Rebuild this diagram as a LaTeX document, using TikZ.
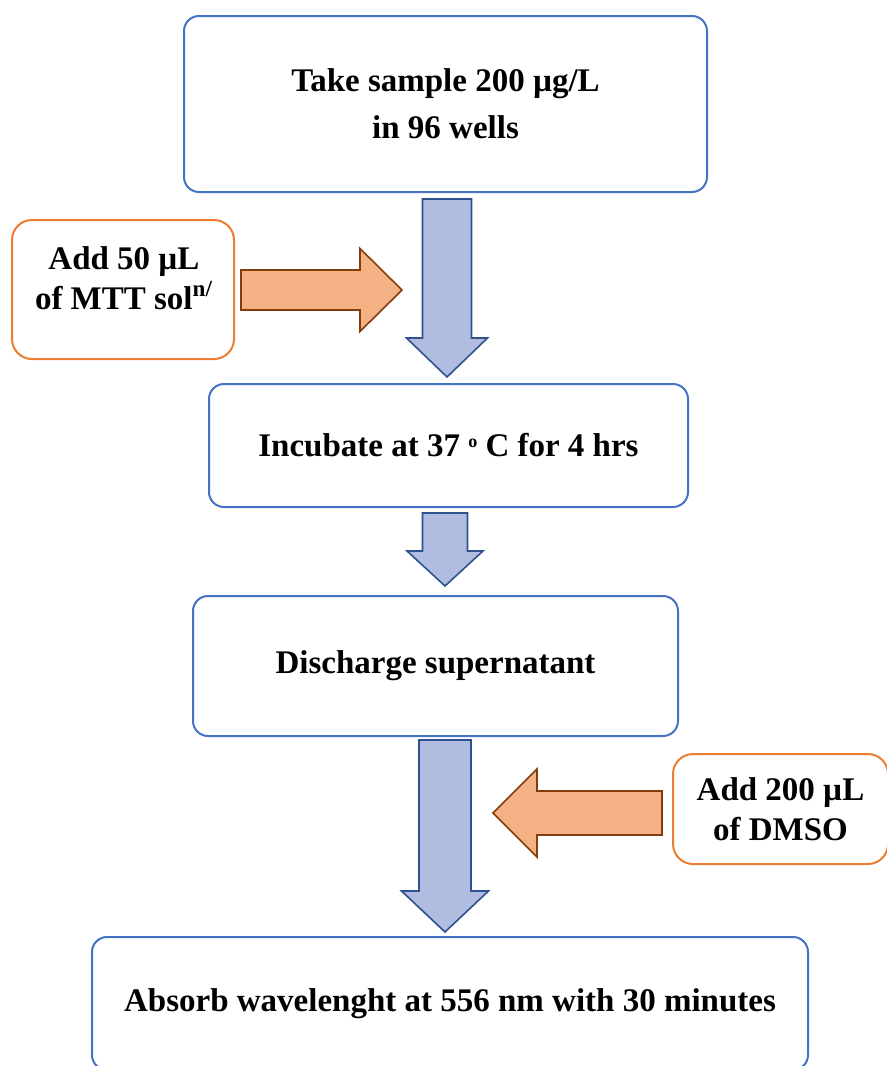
\documentclass[tikz,border=0pt]{standalone}
\usepackage{fontspec}
\setmainfont{Liberation Serif}
\usepackage{tikz}
\usetikzlibrary{calc}
\definecolor{BoxBlue}{HTML}{4472C4}
\definecolor{AddOrange}{HTML}{ED7D31}
\definecolor{ArrBlue}{HTML}{B0BDE0}
\definecolor{ArrEdge}{HTML}{2F528F}
\definecolor{ArrOrange}{HTML}{F4B183}
\definecolor{ArrBrown}{HTML}{843C0C}

% block arrow: style, tail, tip, shaft half width, head half width, head length
\newcommand{\blockarrow}[6]{%
  \coordinate (hb) at ($(#3)!#6!(#2)$);
  \draw[#1] ($(#2)!#4!90:(#3)$) -- ($(hb)!#4!90:(#3)$) -- ($(hb)!#5!90:(#3)$)
    -- (#3) -- ($(hb)!#5!-90:(#3)$) -- ($(hb)!#4!-90:(#3)$)
    -- ($(#2)!#4!-90:(#3)$) -- cycle;}
% small degree mark
\newcommand{\degmark}{\raisebox{0.6ex}{\fontsize{9pt}{9pt}\selectfont o}}

\begin{document}
\begin{tikzpicture}[x=0.5pt, y=-0.5pt,
          stepbox/.style={rectangle, rounded corners=7.5pt, draw=BoxBlue,
                          line width=1pt, fill=white},
          addbox/.style={rectangle, rounded corners=10pt, draw=AddOrange,
                         line width=1pt, fill=white},
          txt/.style={font=\fontsize{16.5pt}{20pt}\selectfont\bfseries, align=center},
          downarr/.style={fill=ArrBlue, draw=ArrEdge, line width=0.8pt},
          sidearr/.style={fill=ArrOrange, draw=ArrBrown, line width=0.8pt}
        ]
        \useasboundingbox (0,0) rectangle (887,1066);

        % Sample
        \node[stepbox, txt, minimum width=261.5pt, minimum height=88pt] (take)
              at (445.5,104) {Take sample 200 µg/L\\[3.5pt]in 96 wells};

        % MTT addition
        \node[addbox, minimum width=111pt, minimum height=69.5pt] (mtt) at (123,289.5) {};
        \node[txt] (mttlbl) at (124,278) {Add 50 µL\\of MTT sol\textsuperscript{n/}};

        % Incubation
        \node[stepbox, txt, minimum width=239.5pt, minimum height=61.5pt] (incub)
              at (448.5,445.5) {Incubate at 37 \degmark\ C for 4 hrs};

        % Discharge
        \node[stepbox, txt, minimum width=242.5pt, minimum height=70pt] (disch)
              at (435.5,666) {Discharge supernatant};

        % DMSO addition
        \node[addbox, txt, minimum width=107.5pt, minimum height=55pt] (dmso)
              at (780.5,809) {Add 200 µL\\of DMSO};

        % Reading
        \node[stepbox, txt, minimum width=358pt, minimum height=66.5pt] (absorb)
              at (450,1003.5) {Absorb wavelenght at 556 nm with 30 minutes};

        % Arrows down
        \coordinate (a1t) at ($(take.south)+(1.5,6)$);
        \coordinate (a1h) at ($(incub.north)+(-1.5,-6)$);
        \blockarrow{downarr}{a1t}{a1h}{12.25pt}{20.25pt}{19.5pt}

        \coordinate (a2t) at ($(incub.south)+(-3.5,5)$);
        \coordinate (a2h) at ($(disch.north)+(9.5,-9)$);
        \blockarrow{downarr}{a2t}{a2h}{11.25pt}{19pt}{17.5pt}

        \coordinate (a3t) at ($(disch.south)+(9.5,3)$);
        \coordinate (a3h) at ($(absorb.north)+(-5,-4)$);
        \blockarrow{downarr}{a3t}{a3h}{13pt}{21.75pt}{20.5pt}

        % Side arrows
        \coordinate (mttt) at ($(mtt.east)+(6,0.5)$);
        \coordinate (mtth) at (402,290);
        \blockarrow{sidearr}{mttt}{mtth}{10pt}{20.75pt}{21pt}

        \coordinate (dmsot) at ($(dmso.west)+(-10,4)$);
        \coordinate (dmsoh) at (493,813);
        \blockarrow{sidearr}{dmsot}{dmsoh}{11pt}{22pt}{22pt}
      \end{tikzpicture}
\end{document}
